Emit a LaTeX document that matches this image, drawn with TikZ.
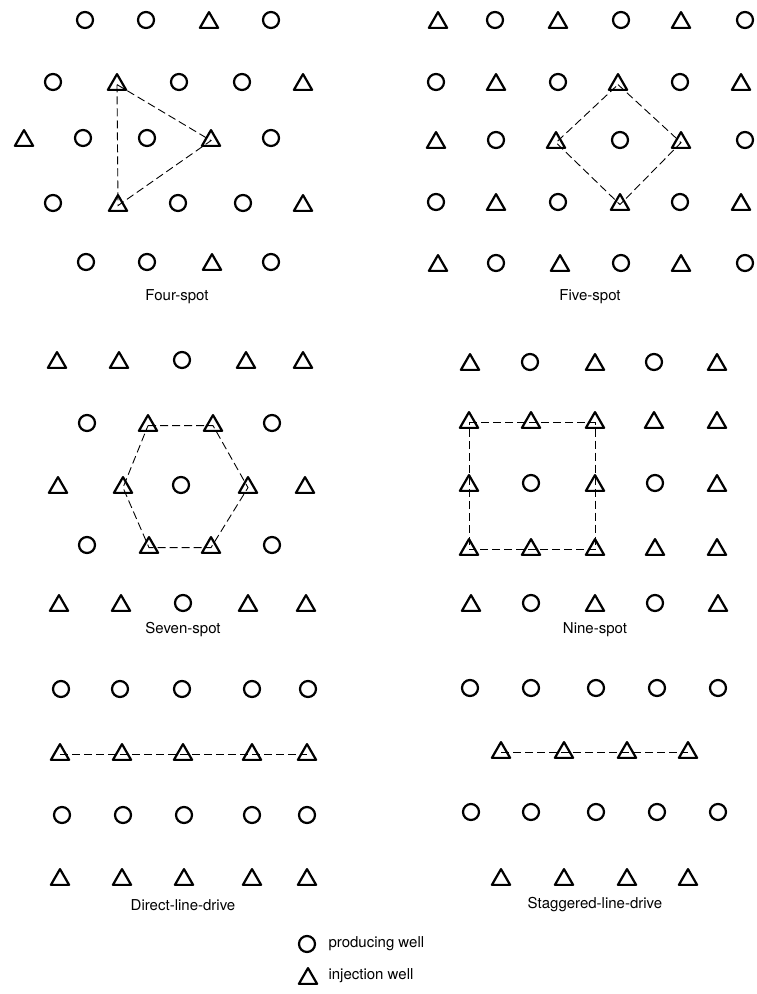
\documentclass[tikz,border=0pt]{standalone}
\usepackage{fontspec}
\setmainfont{TeX Gyre Heros}
\usetikzlibrary{shapes.geometric,positioning}

\tikzset{
  prod/.style={circle,draw,line width=2.2pt,minimum size=16pt,inner sep=0pt},
  inj/.style={regular polygon,regular polygon sides=3,draw,line width=2.2pt,
    line join=round,minimum size=21pt,inner sep=0pt,yshift=-2.6pt},
  outline/.style={line width=0.9pt,dash pattern=on 8pt off 4pt},
  patname/.style={font=\fontsize{15}{18}\selectfont},
}

\begin{document}
\begin{tikzpicture}[x=1pt,y=-1pt]
  \useasboundingbox (0,0) rectangle (756,994);

  % four-spot
  \foreach \x/\t [count=\c] in {85/prod,146/prod,209/inj,271/prod}
    \node[\t] (four-1-\c) at (\x,20) {};
  \foreach \x/\t [count=\c] in {53/prod,117/inj,179/prod,242/prod,303/inj}
    \node[\t] (four-2-\c) at (\x,82) {};
  \foreach \x/\t [count=\c] in {24/inj,83/prod,147/prod,211/inj,271/prod}
    \node[\t] (four-3-\c) at (\x,138) {};
  \foreach \x/\t [count=\c] in {53/prod,118/inj,178/prod,243/prod,303/inj}
    \node[\t] (four-4-\c) at (\x,203) {};
  \foreach \x/\t [count=\c] in {86/prod,147/prod,212/inj,271/prod}
    \node[\t] (four-5-\c) at (\x,262) {};
  \draw[outline] (four-2-2.center) -- (four-3-4.center) -- (four-4-2.center) -- cycle;
  \node[patname] (fourname) at (177,297) {Four-spot};

  % five-spot
  \foreach \x/\t [count=\c] in {438/inj,495/prod,558/inj,621/prod,681/inj,745/prod}
    \node[\t] (five-1-\c) at (\x,20) {};
  \foreach \x/\t [count=\c] in {436/prod,496/inj,558/prod,618/inj,680/prod,741/inj}
    \node[\t] (five-2-\c) at (\x,82) {};
  \foreach \x/\t [count=\c] in {436/inj,496/prod,556/inj,620/prod,681/inj,745/prod}
    \node[\t] (five-3-\c) at (\x,140) {};
  \foreach \x/\t [count=\c] in {436/prod,496/inj,558/prod,620/inj,680/prod,741/inj}
    \node[\t] (five-4-\c) at (\x,202) {};
  \foreach \x/\t [count=\c] in {438/inj,496/prod,560/inj,621/prod,681/inj,745/prod}
    \node[\t] (five-5-\c) at (\x,263) {};
  \draw[outline] (five-2-4.center) -- (five-3-5.center) -- (five-4-4.center)
    -- (five-3-3.center) -- cycle;
  \node[patname] (fivename) at (590,297) {Five-spot};

  % seven-spot
  \foreach \x/\t [count=\c] in {57/inj,119/inj,182/prod,246/inj,303/inj}
    \node[\t] (seven-1-\c) at (\x,360) {};
  \foreach \x/\t [count=\c] in {87/prod,148/inj,213/inj,272/prod}
    \node[\t] (seven-2-\c) at (\x,423) {};
  \foreach \x/\t [count=\c] in {58/inj,123/inj,181/prod,248/inj,305/inj}
    \node[\t] (seven-3-\c) at (\x,485) {};
  \foreach \x/\t [count=\c] in {87/prod,149/inj,211/inj,272/prod}
    \node[\t] (seven-4-\c) at (\x,545) {};
  \foreach \x/\t [count=\c] in {59/inj,121/inj,183/prod,248/inj,306/inj}
    \node[\t] (seven-5-\c) at (\x,603) {};
  \draw[outline] (seven-2-2.center) -- (seven-2-3.center) -- (seven-3-4.center)
    -- (seven-4-3.center) -- (seven-4-2.center) -- (seven-3-2.center) -- cycle;
  \node[patname] (sevenname) at (183,630) {Seven-spot};

  % nine-spot
  \foreach \x/\t [count=\c] in {470/inj,530/prod,595/inj,654/prod,717/inj}
    \node[\t] (nine-1-\c) at (\x,362) {};
  \foreach \x/\t [count=\c] in {469/inj,531/inj,595/inj,654/inj,717/inj}
    \node[\t] (nine-2-\c) at (\x,420) {};
  \foreach \x/\t [count=\c] in {469/inj,531/prod,595/inj,655/prod,717/inj}
    \node[\t] (nine-3-\c) at (\x,483) {};
  \foreach \x/\t [count=\c] in {469/inj,531/inj,595/inj,655/inj,717/inj}
    \node[\t] (nine-4-\c) at (\x,547) {};
  \foreach \x/\t [count=\c] in {471/inj,531/prod,595/inj,655/prod,718/inj}
    \node[\t] (nine-5-\c) at (\x,603) {};
  \draw[outline] (nine-2-1.center) -- (nine-2-3.center) -- (nine-4-3.center)
    -- (nine-4-1.center) -- cycle;
  \node[patname] (ninename) at (595,630) {Nine-spot};

  % direct-line-drive
  \foreach \x [count=\c] in {61,120,182,252,308}
    \node[prod] (dld-1-\c) at (\x,689) {};
  \foreach \x [count=\c] in {60,122,183,252,307}
    \node[inj] (dld-2-\c) at (\x,752) {};
  \foreach \x [count=\c] in {62,123,184,252,307}
    \node[prod] (dld-3-\c) at (\x,815) {};
  \foreach \x [count=\c] in {60,122,184,252,307}
    \node[inj] (dld-4-\c) at (\x,877) {};
  \draw[outline] (dld-2-1.center) -- (dld-2-5.center);
  \node[patname] (dldname) at (183,905) {Direct-line-drive};

  % staggered-line-drive
  \foreach \x [count=\c] in {470,531,596,657,718}
    \node[prod] (sld-1-\c) at (\x,688) {};
  \foreach \x [count=\c] in {501,564,627,688}
    \node[inj] (sld-2-\c) at (\x,750) {};
  \foreach \x [count=\c] in {471,531,596,657,718}
    \node[prod] (sld-3-\c) at (\x,812) {};
  \foreach \x [count=\c] in {501,564,627,688}
    \node[inj] (sld-4-\c) at (\x,877) {};
  \draw[outline] (sld-2-1.center) -- (sld-2-4.center);
  \node[patname] (sldname) at (595,905) {Staggered-line-drive};

  % legend
  \node[prod] (keyprod) at (307,944) {};
  \node[inj] (keyinj) at (308,976) {};
  \node[patname,anchor=west] (keyprodtext) at (325,944) {producing well};
  \node[patname,anchor=west] (keyinjtext) at (325,976) {injection well};
\end{tikzpicture}
\end{document}
